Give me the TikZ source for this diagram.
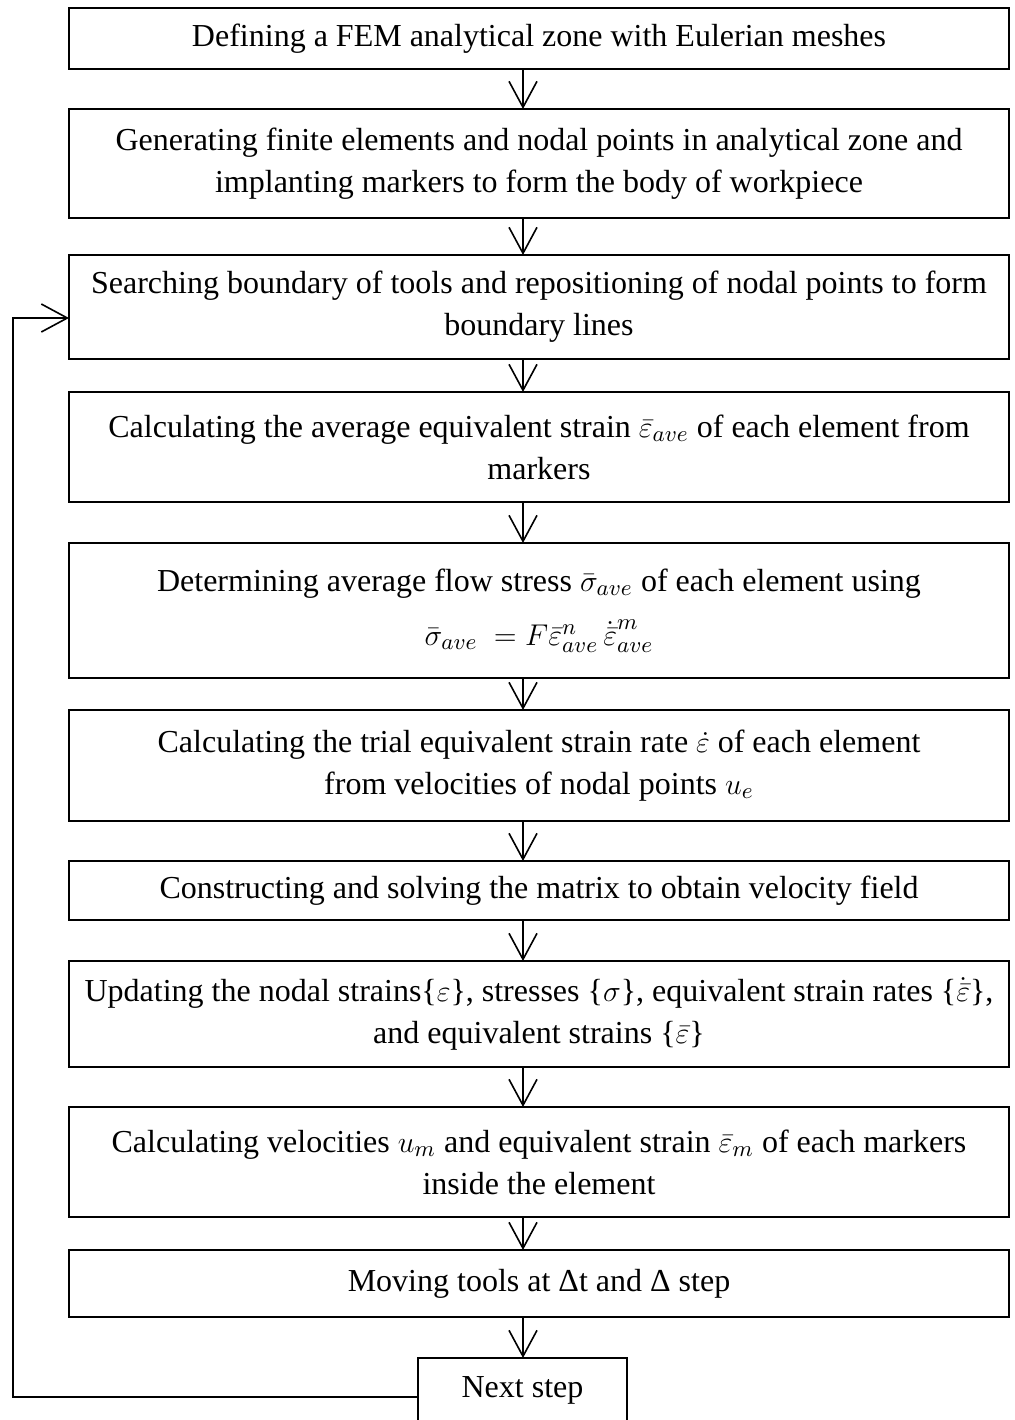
\documentclass[tikz,border=0pt]{standalone}
\usepackage{fontspec}
\setmainfont{Liberation Serif}
\usetikzlibrary{arrows.meta}
\tikzset{
  stepbox/.style={draw, line width=0.64pt, inner sep=0pt, outer sep=0pt, align=center,
    minimum width=376pt, font=\fontsize{12.8}{16.8}\selectfont},
  flowarrow/.style={draw, line width=0.64pt, -{Straight Barb[length=10.4pt,width=11.2pt]}}
}
\begin{document}
\begin{tikzpicture}[x=0.4pt,y=-0.4pt]
\useasboundingbox (0,0) rectangle (1014,1420);
\clip (0,0) rectangle (1014,1420);
\node[stepbox, minimum height=24.4pt] (b1) at (539,38.5) {Defining a FEM analytical zone with Eulerian meshes};
\node[stepbox, minimum height=43.6pt] (b2) at (539,163.5) {Generating finite elements and nodal points in analytical zone and\\implanting markers to form the body of workpiece};
\node[stepbox, minimum height=41.6pt] (b3) at (539,307) {Searching boundary of tools and repositioning of nodal points to form\\boundary lines};
\node[stepbox, minimum height=44pt] (b4) at (539,447) {Calculating the average equivalent strain $\bar{\varepsilon}_{ave}$\ of each element from\\markers};
\node[stepbox, minimum height=54pt] (b5) at (539,610.5) {Determining average flow stress $\bar{\sigma}_{ave}$\ of each element using\\[4.8pt]$\bar{\sigma}_{ave}\ = F\bar{\varepsilon}_{ave}^{n}\,\dot{\bar{\varepsilon}}_{ave}^{m}$};
\node[stepbox, minimum height=44.4pt] (b6) at (539,765.5) {Calculating the trial equivalent strain rate $\dot{\varepsilon}$\ of each element\\from velocities of nodal points $u_e$};
\node[stepbox, minimum height=23.6pt] (b7) at (539,890.5) {Constructing and solving the matrix to obtain velocity field};
\node[stepbox, minimum height=42.4pt] (b8) at (539,1014) {Updating the nodal strains\{$\varepsilon$\}, stresses \{$\sigma$\}, equivalent strain rates \{$\dot{\bar{\varepsilon}}$\},\\and equivalent strains \{$\bar{\varepsilon}$\}};
\node[stepbox, minimum height=44pt] (b9) at (539,1162) {Calculating velocities $u_m$\ and equivalent strain $\bar{\varepsilon}_m$\ of each markers\\inside the element};
\node[stepbox, minimum height=26.8pt] (b10) at (539,1283.5) {Moving tools at Δt and Δ step};
\node[stepbox, minimum width=83.6pt, minimum height=25.6pt] (nxt) at (522.5,1390) {Next step};
\coordinate (ax) at (523,0);
\foreach \a/\b in {b1/b2,b2/b3,b3/b4,b4/b5,b5/b6,b6/b7,b7/b8,b8/b9,b9/b10,b10/nxt}
  \draw[flowarrow] (\a.south -| ax) -- (\b.north -| ax);
\coordinate (lp1) at (13,1397);
\coordinate (lp2) at (13,318);
\draw[flowarrow] (nxt.west |- lp1) -- (lp1) -- (lp2) -- (b3.west |- lp2);
\end{tikzpicture}
\end{document}
